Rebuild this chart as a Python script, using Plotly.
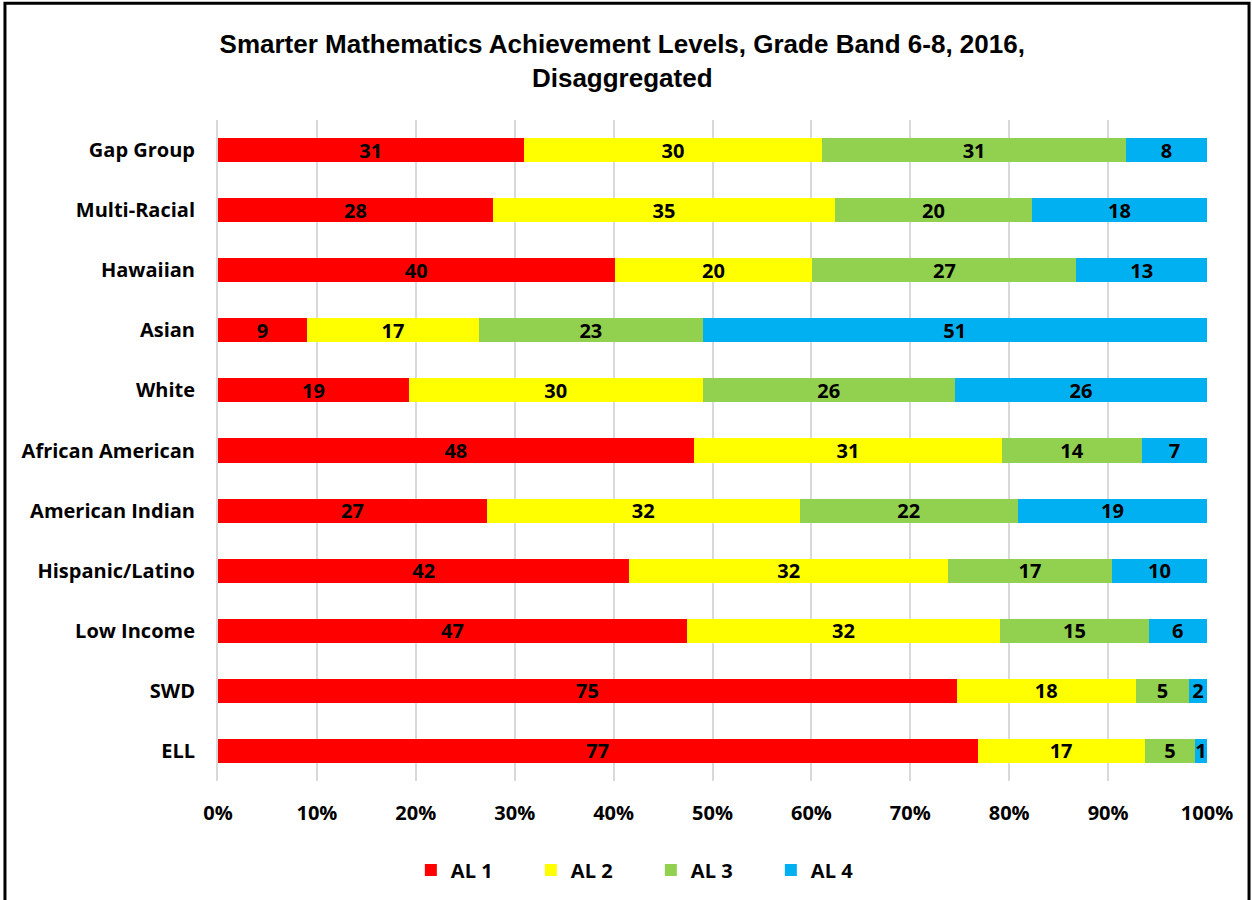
import plotly.graph_objects as go

categories = ["Gap Group", "Multi-Racial", "Hawaiian", "Asian", "White",
              "African American", "American Indian", "Hispanic/Latino",
              "Low Income", "SWD", "ELL"]
al1 = [30.9, 27.8, 40.1, 9.0, 19.3, 48.1, 27.2, 41.6, 47.4, 74.7, 76.8]
al2 = [30.2, 34.6, 20.0, 17.4, 29.7, 31.2, 31.6, 32.2, 31.7, 18.1, 16.9]
al3 = [30.7, 19.9, 26.7, 22.6, 25.5, 14.1, 22.1, 16.6, 15.0, 5.4, 5.1]
al4 = [8.2, 17.7, 13.2, 51.0, 25.5, 6.6, 19.1, 9.6, 5.9, 1.8, 1.2]
series_names = ["AL 1", "AL 2", "AL 3", "AL 4"]
colors = ["#FF0000", "#FFFF00", "#92D050", "#00B0F0"]
tick_vals = [0, 10, 20, 30, 40, 50, 60, 70, 80, 90, 100]
tick_text = ["0%", "10%", "20%", "30%", "40%", "50%", "60%", "70%", "80%", "90%", "100%"]

LABEL_FONT = "Open Sans, Lato, sans-serif"

fig = go.Figure()
for name, vals, col in zip(series_names, [al1, al2, al3, al4], colors):
    fig.add_trace(go.Bar(
        y=categories, x=vals, name=name, orientation="h",
        marker=dict(color=col, line=dict(width=0)),
        text=[f"{v:.0f}" for v in vals],
        textposition="inside", insidetextanchor="middle", textangle=0,
        textfont=dict(family=LABEL_FONT, size=20, color="black", weight="bold"),
        constraintext="none", cliponaxis=False,
    ))

fig.update_layout(
    width=1252, height=900,
    barmode="stack",
    bargap=0.6,
    plot_bgcolor="white", paper_bgcolor="white",
    margin=dict(l=218, r=45, t=120, b=118),
    title=dict(
        text="Smarter Mathematics Achievement Levels, Grade Band 6-8, 2016,<br>Disaggregated",
        x=0.497, xanchor="center", y=0.9406, yanchor="top",
        font=dict(family="Liberation Sans, Arial, sans-serif", size=26, color="black", weight="bold"),
    ),
    uniformtext=dict(mode="show", minsize=20),
    legend=dict(
        orientation="h", x=0.195, xanchor="left", y=-0.133, yanchor="middle",
        font=dict(family=LABEL_FONT, size=20, color="black", weight="bold"),
        traceorder="normal", itemwidth=30, entrywidth=75,
    ),
    showlegend=True,
)
fig.update_xaxes(
    range=[0, 100.001], tickvals=tick_vals, ticktext=tick_text,
    showgrid=True, gridcolor="#D9D9D9", gridwidth=2,
    zeroline=False, showline=False, ticks="", ticklabelstandoff=18,
    tickfont=dict(family=LABEL_FONT, size=20, color="black", weight="bold"),
)
fig.update_yaxes(
    autorange="reversed", categoryorder="array", categoryarray=categories,
    showline=True, linecolor="#D9D9D9", linewidth=2, ticks="",
    ticklabelstandoff=17,
    tickfont=dict(family=LABEL_FONT, size=20, color="black", weight="bold"),
)
fig.add_shape(type="rect", xref="paper", yref="paper",
              x0=-0.2154, x1=1.0425, y0=-0.25, y1=1.1767,
              line=dict(color="black", width=3), fillcolor="rgba(0,0,0,0)", layer="above")

fig.write_html("out.html", config={"displayModeBar": False},
               post_script="document.body.style.margin='0px';")
